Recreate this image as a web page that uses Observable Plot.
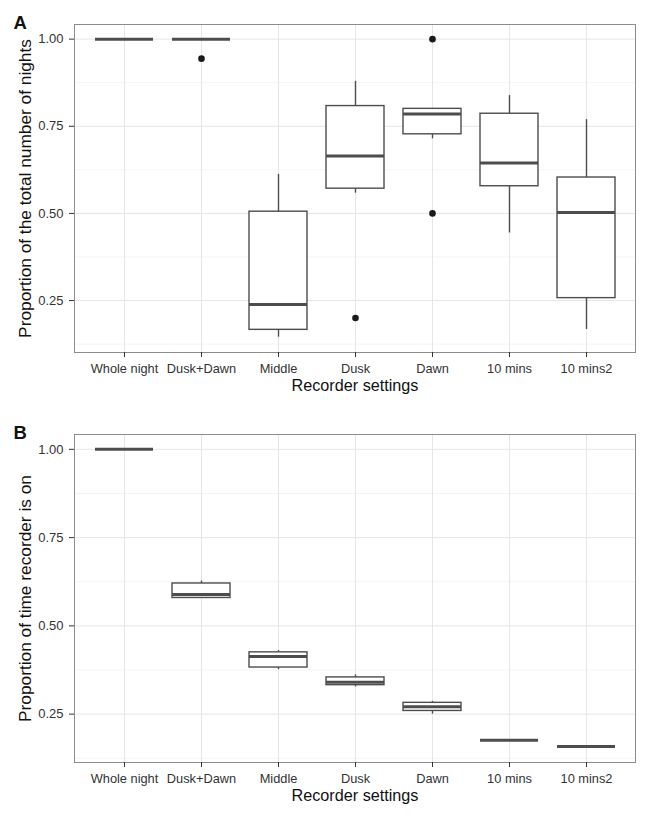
<!DOCTYPE html>
<html>
<head>
<meta charset="utf-8">
<script src="https://cdn.jsdelivr.net/npm/d3@7"></script>
<script src="https://cdn.jsdelivr.net/npm/@observablehq/plot@0.6"></script>
<style>
  html, body { margin: 0; padding: 0; background: white; }
  #chart svg { display: block; }
</style>
</head>
<body>
<div id="chart"></div>
<script>
// ---- Data ----
const categories = ["Whole night", "Dusk+Dawn", "Middle", "Dusk", "Dawn", "10 mins", "10 mins2"];
const yTicks = [0.25, 0.50, 0.75, 1.00];
const yMinorTicks = [0.125, 0.375, 0.625, 0.875];

// Panel A: proportion of the total number of nights
const nightsLow    = [1.00, 1.00, 0.145, 0.558, 0.714, 0.444, 0.167];
const nightsQ1     = [1.00, 1.00, 0.166, 0.571, 0.727, 0.578, 0.257];
const nightsMedian = [1.00, 1.00, 0.239, 0.665, 0.785, 0.645, 0.503];
const nightsQ3     = [1.00, 1.00, 0.505, 0.808, 0.800, 0.786, 0.603];
const nightsHigh   = [1.00, 1.00, 0.612, 0.879, 0.800, 0.838, 0.769];
const nightsOutlierCat = ["Dusk+Dawn", "Dusk", "Dawn", "Dawn"];
const nightsOutlierVal = [0.944, 0.200, 1.000, 0.500];

// Panel B: proportion of time recorder is on
const timeLow    = [1.00, 0.578, 0.376, 0.327, 0.250, 0.176, 0.158];
const timeQ1     = [1.00, 0.579, 0.382, 0.332, 0.259, 0.176, 0.158];
const timeMedian = [1.00, 0.589, 0.413, 0.340, 0.271, 0.176, 0.158];
const timeQ3     = [1.00, 0.620, 0.425, 0.354, 0.282, 0.176, 0.158];
const timeHigh   = [1.00, 0.627, 0.430, 0.361, 0.286, 0.176, 0.158];
const timeOutlierCat = [];
const timeOutlierVal = [];

const xTitle = "Recorder settings";

function panel({letter, yTitle, low, q1, med, q3, high, outCat, outVal, height, marginTop, marginBottom, yDomain}) {
  const rows = categories.map((c, i) => ({cat: c, lo: low[i], q1: q1[i], med: med[i], q3: q3[i], hi: high[i]}));
  const outliers = outCat.map((c, i) => ({cat: c, v: outVal[i]}));
  const boxes = rows.filter(d => d.q3 > d.q1);
  const font = "'Liberation Sans', Arial, Helvetica, sans-serif";
  return Plot.plot({
    width: 660,
    height,
    marginLeft: 74,
    marginRight: 25,
    marginTop,
    marginBottom,
    style: {fontFamily: font, fontSize: "12.8px", color: "#333", background: "white", overflow: "visible"},
    x: {domain: categories, paddingInner: 0.25, paddingOuter: 0.225, label: null},
    y: {domain: yDomain, label: null},
    marks: [
      Plot.gridY(yMinorTicks, {stroke: "#f4f4f4", strokeOpacity: 1, strokeWidth: 1}),
      Plot.gridY(yTicks, {stroke: "#e6e6e6", strokeOpacity: 1, strokeWidth: 1}),
      Plot.gridX(categories, {stroke: "#e6e6e6", strokeOpacity: 1, strokeWidth: 1}),
      Plot.ruleX(rows, {x: "cat", y1: "lo", y2: "hi", stroke: "#4d4d4d", strokeWidth: 1.4}),
      Plot.barY(boxes, {x: "cat", y1: "q1", y2: "q3", fill: "white", stroke: "#4d4d4d", strokeWidth: 1.4}),
      Plot.tickY(rows, {x: "cat", y: "med", stroke: "#4d4d4d", strokeWidth: 3}),
      Plot.dot(outliers, {x: "cat", y: "v", r: 3.3, fill: "#1a1a1a", stroke: "none"}),
      Plot.frame({stroke: "#8c8c8c", strokeWidth: 1}),
      Plot.axisY(yTicks, {tickSize: 5, tickPadding: 6, tickFormat: d3.format(".2f"), stroke: "#333", fill: "#333", fontSize: 13, label: null}),
      Plot.axisX(categories, {tickSize: 5, tickPadding: 6.5, stroke: "#333", fill: "#333", fontSize: 12.8, label: null}),
      Plot.text([yTitle], {frameAnchor: "left", dx: -49, rotate: -90, text: d => d, fontSize: 17.3, fill: "#111", textAnchor: "middle"}),
      Plot.text([xTitle], {frameAnchor: "bottom", dy: 38, text: d => d, fontSize: 16.2, fill: "#111", textAnchor: "middle"}),
      Plot.text([letter], {frameAnchor: "top-left", dx: -61, dy: -9, lineAnchor: "top", text: d => d, fontSize: 18.5, fontWeight: "bold", fill: "#111", textAnchor: "start"})
    ]
  });
}

const chart = document.getElementById("chart");
chart.append(panel({
  letter: "A",
  yTitle: "Proportion of the total number of nights",
  low: nightsLow, q1: nightsQ1, med: nightsMedian, q3: nightsQ3, high: nightsHigh,
  outCat: nightsOutlierCat, outVal: nightsOutlierVal,
  height: 400, marginTop: 24, marginBottom: 48, yDomain: [0.101, 1.042]
}));
chart.append(panel({
  letter: "B",
  yTitle: "Proportion of time recorder is on",
  low: timeLow, q1: timeQ1, med: timeMedian, q3: timeQ3, high: timeHigh,
  outCat: timeOutlierCat, outVal: timeOutlierVal,
  height: 420, marginTop: 34, marginBottom: 58, yDomain: [0.113, 1.042]
}));
</script>
</body>
</html>
